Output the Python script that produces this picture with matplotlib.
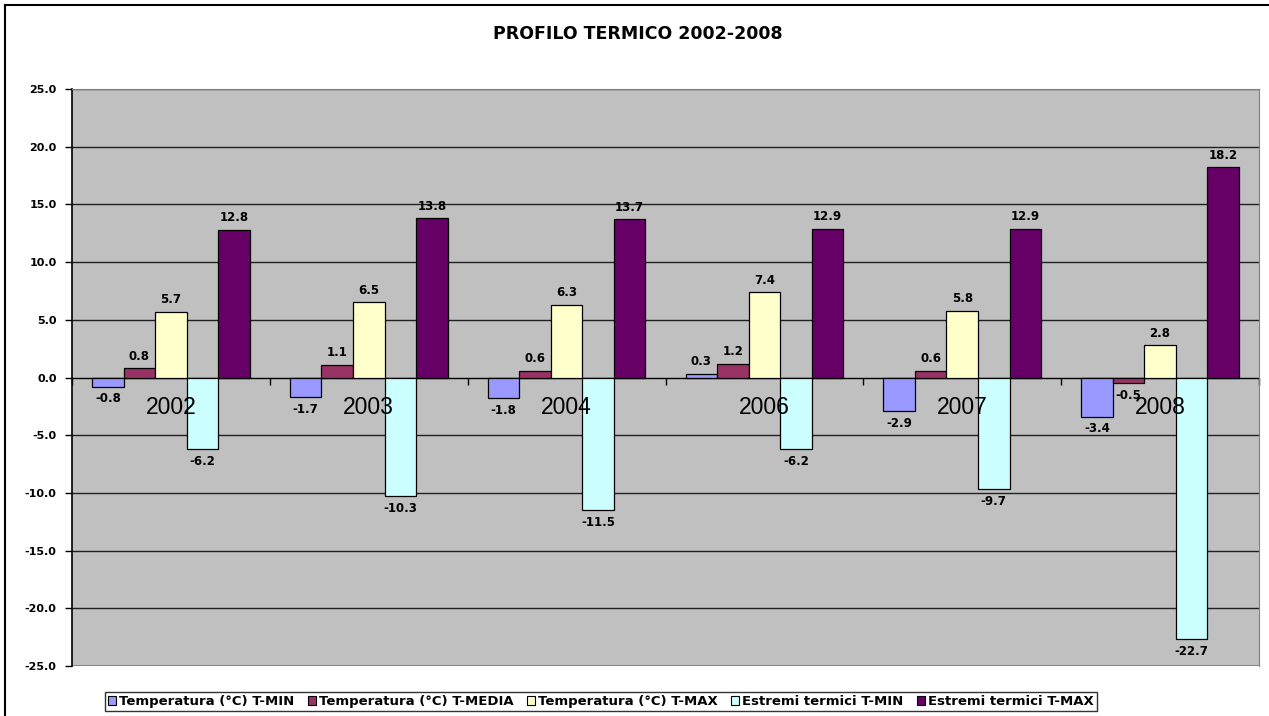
import matplotlib

matplotlib.use("Agg")
import matplotlib.pyplot as plt
import numpy as np
from matplotlib.lines import Line2D
from matplotlib.patches import Patch

# Temperature profile 2002-2008
YEARS = ["2002", "2003", "2004", "2006", "2007", "2008"]
SERIES = [
    "Temperatura (°C) T-MIN",
    "Temperatura (°C) T-MEDIA",
    "Temperatura (°C) T-MAX",
    "Estremi termici T-MIN",
    "Estremi termici T-MAX",
]
T_MIN = [-0.8, -1.7, -1.8, 0.3, -2.9, -3.4]
T_MEDIA = [0.8, 1.1, 0.6, 1.2, 0.6, -0.5]
T_MAX = [5.7, 6.5, 6.3, 7.4, 5.8, 2.8]
EST_MIN = [-6.2, -10.3, -11.5, -6.2, -9.7, -22.7]
EST_MAX = [12.8, 13.8, 13.7, 12.9, 12.9, 18.2]
COLORS = ["#9999FF", "#993366", "#FFFFCC", "#CCFFFF", "#660066"]

FONT = "DejaVu Sans"

fig = plt.figure(figsize=(12.69, 7.16), dpi=100)
ax = fig.add_axes([72 / 1269, 1 - 666 / 716, (1259 - 72) / 1269, (666 - 89) / 716])
ax.set_facecolor("#C0C0C0")

x = np.arange(len(YEARS)) + 0.5
width = 1 / 6.28
values = [T_MIN, T_MEDIA, T_MAX, EST_MIN, EST_MAX]
for k, (vals, color) in enumerate(zip(values, COLORS)):
    bars = ax.bar(x + (k - 2) * width, vals, width, color=color, edgecolor="black",
                  linewidth=0.9, zorder=3)
    for b, v in zip(bars, vals):
        off = 4 if v >= 0 else -4
        ax.annotate(f"{v:.1f}", (b.get_x() + b.get_width() / 2, v), xytext=(0, off),
                    textcoords="offset points", ha="center",
                    va="bottom" if v >= 0 else "top", fontsize=8.5, fontweight="bold",
                    family=FONT, zorder=5)

# year labels sit just under the zero line, over the bars
for xi, yr in zip(x, YEARS):
    ax.annotate(yr, (xi, 0), xytext=(0, -21.5), textcoords="offset points",
                ha="center", va="center", fontsize=16.5, family="Liberation Sans", zorder=6)

ax.set_xlim(0, len(YEARS))
ax.set_ylim(-25, 25)
ax.set_yticks(np.arange(-25, 26, 5))
ax.set_yticklabels([f"{t:.1f}" for t in np.arange(-25, 26, 5)], fontsize=8,
                   fontweight="bold", family=FONT)
ax.yaxis.grid(True, color="#202020", lw=1.0, zorder=1)
ax.set_axisbelow(True)
ax.tick_params(axis="y", length=5, width=1, direction="out", pad=6)

# category axis drawn at zero
ax.spines["bottom"].set_position(("data", 0))
ax.spines["bottom"].set_zorder(2)
ax.set_xticks(np.arange(len(YEARS) + 1))
ax.set_xticklabels([])
ax.tick_params(axis="x", length=5, width=1, direction="out")
ax.spines["left"].set_linewidth(1.2)
for side in ["top", "right"]:
    ax.spines[side].set_color("#808080")
ax.axhline(-25, color="#808080", lw=1.2, zorder=2)

fig.text(638 / 1269, 1 - 34 / 716, "PROFILO TERMICO 2002-2008", ha="center", va="center",
         fontsize=12.5, fontweight="bold", family=FONT)

handles = [Patch(facecolor=c, edgecolor="black", linewidth=0.8) for c in COLORS]
leg = fig.legend(handles, SERIES, loc="center", bbox_to_anchor=(601 / 1269, 1 - 701.5 / 716),
                 ncol=5, frameon=True, fancybox=False, edgecolor="black",
                 prop={"family": FONT, "weight": "bold", "size": 9.5},
                 handlelength=0.6, handleheight=0.6, handletextpad=0.25,
                 columnspacing=1.0, borderpad=0.25, borderaxespad=0)
leg.get_frame().set_linewidth(1.0)

# chart border (cut off at right and bottom like the screenshot)
fig.add_artist(Line2D([5 / 1269, 5 / 1269], [0, 1 - 5 / 716], color="black", lw=1.5,
                      transform=fig.transFigure))
fig.add_artist(Line2D([5 / 1269, 1], [1 - 5 / 716, 1 - 5 / 716], color="black", lw=1.5,
                      transform=fig.transFigure))

fig.savefig("out.png", dpi=100, facecolor="white")
